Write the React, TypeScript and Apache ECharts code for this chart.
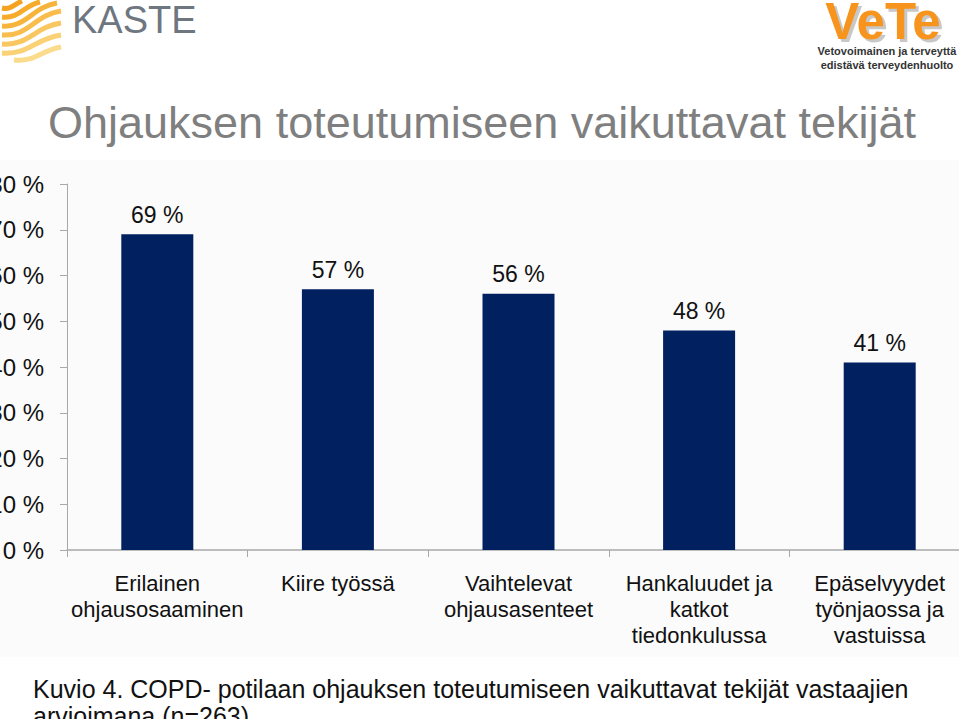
import React, { useEffect, useRef } from "react";
import * as echarts from "echarts";

const categories = [
  "Erilainen\nohjausosaaminen",
  "Kiire työssä",
  "Vaihtelevat\nohjausasenteet",
  "Hankaluudet ja\nkatkot\ntiedonkulussa",
  "Epäselvyydet\ntyönjaossa ja\nvastuissa",
];
const values = [69, 57, 56, 48, 41];
const yMin = 0;
const yMax = 80;
const yStep = 10;

const titleText = "Ohjauksen toteutumiseen vaikuttavat tekijät";
const captionLine1 = "Kuvio 4. COPD- potilaan ohjauksen toteutumiseen vaikuttavat tekijät vastaajien";
const captionLine2 = "arvioimana (n=263)";

const FONT = "'Liberation Sans', Arial, sans-serif";

const stripeDefs = [
  [2, 8, 22, 1],
  [2, 17, 40, 2],
  [2, 26, 57, 3],
  [2, 35, 61, 11],
  [2, 44, 61, 23],
  [2, 53, 61, 35],
  [14, 60, 61, 47],
];
const stripeColors = ["#f5a31e", "#f6ab2a", "#f7b43a", "#f8bd4c", "#f9c760", "#fad175", "#fbdb8c"];

export default function App() {
  const ref = useRef<HTMLDivElement>(null);
  useEffect(() => {
    if (!ref.current) return;
    const chart = echarts.init(ref.current, null, { renderer: "svg" });
    const stripes = stripeDefs.map((s, i) => {
      const [x1, y1, x2, y2] = s;
      return {
        type: "bezierCurve",
        shape: {
          x1, y1, x2, y2,
          cpx1: x1 + (x2 - x1) * 0.45, cpy1: y1 + 2,
          cpx2: x1 + (x2 - x1) * 0.55, cpy2: y2 + 4,
        },
        style: { stroke: stripeColors[i], lineWidth: 5, fill: null },
      };
    });
    chart.setOption({
      animation: false,
      textStyle: { fontFamily: FONT },
      grid: { left: 67, top: 184, width: 903, height: 366, containLabel: false, outerBoundsMode: "none" },
      xAxis: {
        type: "category",
        data: categories,
        axisLine: { lineStyle: { color: "#a8a8a8", width: 1.5 } },
        axisTick: { show: true, length: 7, lineStyle: { color: "#a8a8a8" } },
        axisLabel: { interval: 0, margin: 20, fontSize: 22, lineHeight: 26, color: "#111", fontFamily: FONT },
      },
      yAxis: {
        type: "value",
        min: yMin,
        max: yMax,
        interval: yStep,
        axisLine: { show: true, lineStyle: { color: "#a8a8a8" } },
        axisTick: { show: true, length: 7, lineStyle: { color: "#a8a8a8" } },
        splitLine: { show: false },
        axisLabel: { formatter: "{value} %", fontSize: 24, margin: 23, color: "#111", fontFamily: FONT },
      },
      series: [
        {
          type: "bar",
          data: values,
          barWidth: 72,
          itemStyle: { color: "#002060" },
          label: {
            show: true,
            position: "top",
            distance: 8,
            formatter: "{c} %",
            fontSize: 23,
            color: "#111",
            fontFamily: FONT,
          },
        },
      ],
      graphic: [
        { type: "rect", z: -10, shape: { x: 0, y: 160, width: 959, height: 497 }, style: { fill: "#fbfbfb" } },
        { type: "group", x: 0, y: 0, children: stripes },
        {
          type: "text", x: 72, y: 20,
          style: { text: "KASTE", font: `38px ${FONT}`, fill: "#6e7680", textVerticalAlign: "middle" },
        },
        {
          type: "text", x: 886, y: 24,
          style: { text: "VeTe", font: `bold 51px ${FONT}`, fill: "#c8c8c8", textAlign: "center", textVerticalAlign: "middle" },
        },
        {
          type: "text", x: 883, y: 21,
          style: { text: "VeTe", font: `bold 51px ${FONT}`, fill: "#f7941d", textAlign: "center", textVerticalAlign: "middle" },
        },
        {
          type: "text", x: 887, y: 51,
          style: { text: "Vetovoimainen ja terveyttä", font: `bold 11px ${FONT}`, fill: "#333", textAlign: "center", textVerticalAlign: "middle" },
        },
        {
          type: "text", x: 887, y: 65,
          style: { text: "edistävä terveydenhuolto", font: `bold 11px ${FONT}`, fill: "#333", textAlign: "center", textVerticalAlign: "middle" },
        },
        {
          type: "text", x: 48, y: 122,
          style: { text: titleText, font: `45px ${FONT}`, fill: "#7f7f7f", textVerticalAlign: "middle" },
        },
        {
          type: "text", x: 33, y: 689,
          style: { text: captionLine1, font: `25px ${FONT}`, fill: "#111", textVerticalAlign: "middle" },
        },
        {
          type: "text", x: 33, y: 716,
          style: { text: captionLine2, font: `25px ${FONT}`, fill: "#111", textVerticalAlign: "middle" },
        },
      ],
    });
    return () => chart.dispose();
  }, []);
  return (
    <div
      ref={ref}
      style={{ position: "fixed", left: 0, top: 0, width: 959, height: 719, background: "#fff" }}
    />
  );
}
